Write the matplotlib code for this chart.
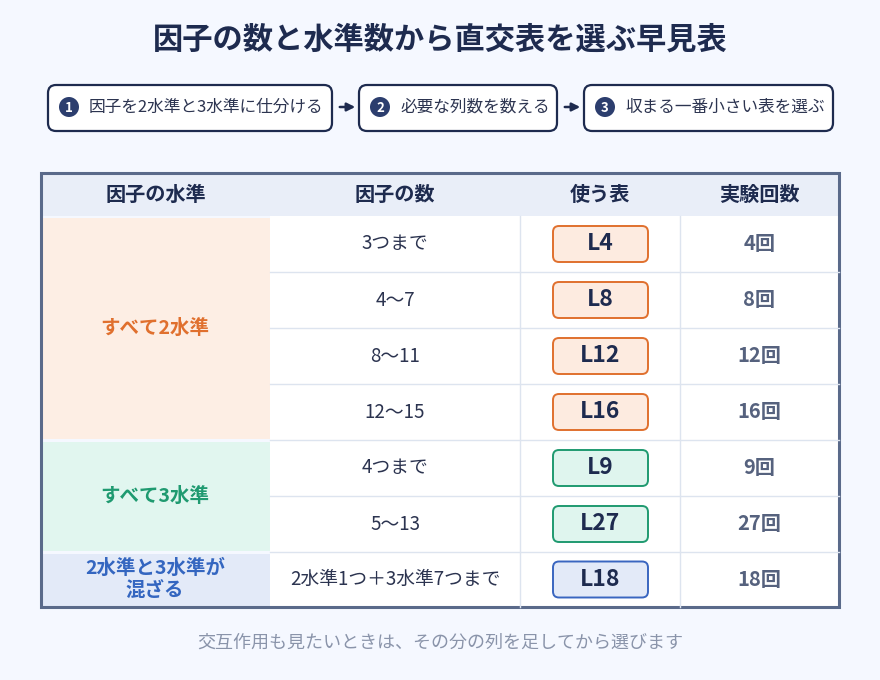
import matplotlib
matplotlib.use("Agg")
import matplotlib.pyplot as plt
from matplotlib.patches import FancyBboxPatch, Rectangle, Circle

plt.rcParams['font.family'] = ['Noto Sans CJK JP', 'DejaVu Sans']

title = "因子の数と水準数から直交表を選ぶ早見表"
steps = ["因子を2水準と3水準に仕分ける", "必要な列数を数える", "収まる一番小さい表を選ぶ"]
headers = ["因子の水準", "因子の数", "使う表", "実験回数"]
groups = ["すべて2水準", "すべて3水準", "2水準と3水準が\n混ざる"]
group_rows = [4, 2, 1]
factor_counts = ["3つまで", "4〜7", "8〜11", "12〜15", "4つまで", "5〜13", "2水準1つ＋3水準7つまで"]
tables = ["L4", "L8", "L12", "L16", "L9", "L27", "L18"]
runs = ["4回", "8回", "12回", "16回", "9回", "27回", "18回"]
footer = "交互作用も見たいときは、その分の列を足してから選びます"

navy = "#1e2b4f"
gfill = ["#fdeee4", "#e1f6ef", "#e3eaf8"]
gtext = ["#e0702e", "#1f9a70", "#3466c0"]
bfill = ["#fdebe0", "#dff5ee", "#e3eaf8"]
bedge = ["#e0702e", "#1f9a70", "#3a66c0"]

fig = plt.figure(figsize=(8.8, 6.8), dpi=100)
fig.patch.set_facecolor("#f5f8ff")
ax = fig.add_axes([0, 0, 1, 1])
ax.set_xlim(0, 880); ax.set_ylim(680, 0); ax.axis("off")

ax.text(440, 40, title, ha="center", va="center", fontsize=21.8, fontweight="bold", color=navy)

boxes = [(48, 332), (359, 557), (584, 833)]
for i, ((x0, x1), s) in enumerate(zip(boxes, steps)):
    ax.add_patch(FancyBboxPatch((x0, 85), x1 - x0, 46, boxstyle="round,pad=0,rounding_size=8",
                                fc="white", ec=navy, lw=1.6))
    ax.add_patch(Circle((x0 + 21, 107), 10, fc="#2c3e6e", ec="none"))
    ax.text(x0 + 21, 107.5, str(i + 1), ha="center", va="center", fontsize=9.5, fontweight="bold", color="white")
    ax.text(x0 + 41, 107.5, s, ha="left", va="center", fontsize=12, color="#2c3450")
    if i < 2:
        ax.annotate("", xy=(boxes[i + 1][0] - 1, 107), xytext=(x1 + 5, 107),
                    arrowprops=dict(arrowstyle="-|>", color=navy, lw=1.8, mutation_scale=12))

cols = [41, 270, 520, 680, 839]
top, htop, rh = 173, 216, 56
ax.add_patch(Rectangle((41, top), 798, htop - top, fc="#e9eef8", ec="none"))
for j, h in enumerate(headers):
    ax.text((cols[j] + cols[j + 1]) / 2, 194.5, h, ha="center", va="center",
            fontsize=14.5, fontweight="bold", color=navy)

nrows = len(tables)
ys = [htop + rh * r for r in range(nrows)] + [607]
ax.add_patch(Rectangle((270, htop), 569, 607 - htop, fc="white", ec="none"))
for r in range(1, nrows):
    ax.plot([270, 839], [ys[r], ys[r]], color="#dde4ef", lw=1)
for c in cols[2:4]:
    ax.plot([c, c], [htop, 607], color="#dde4ef", lw=1)

r0 = 0
for g, (name, n) in enumerate(zip(groups, group_rows)):
    y0, y1 = ys[r0], ys[r0 + n]
    ax.add_patch(Rectangle((41, y0 + 1.5), 229, y1 - y0 - 3, fc=gfill[g], ec="none"))
    ax.text(155, (y0 + y1) / 2, name, ha="center", va="center", fontsize=14,
            fontweight="bold", color=gtext[g], linespacing=1.25)
    for r in range(r0, r0 + n):
        yc = (ys[r] + ys[r + 1]) / 2
        ax.text(395, yc, factor_counts[r], ha="center", va="center", fontsize=13.5, color="#2c3450")
        ax.add_patch(FancyBboxPatch((553, yc - 18), 95, 36, boxstyle="round,pad=0,rounding_size=6",
                                    fc=bfill[g], ec=bedge[g], lw=1.4))
        ax.text(600.5, yc, tables[r], ha="center", va="center", fontsize=16.5,
                fontweight="bold", color=navy)
        ax.text(759.5, yc, runs[r], ha="center", va="center", fontsize=14.5,
                fontweight="bold", color="#56627e")
    r0 += n

ax.add_patch(Rectangle((41, top), 798, 607 - top, fc="none", ec="#5a6a8a", lw=2.2))
ax.text(440, 643, footer, ha="center", va="center", fontsize=13, color="#8a94aa")

fig.savefig("out.png", dpi=100, facecolor=fig.get_facecolor())
